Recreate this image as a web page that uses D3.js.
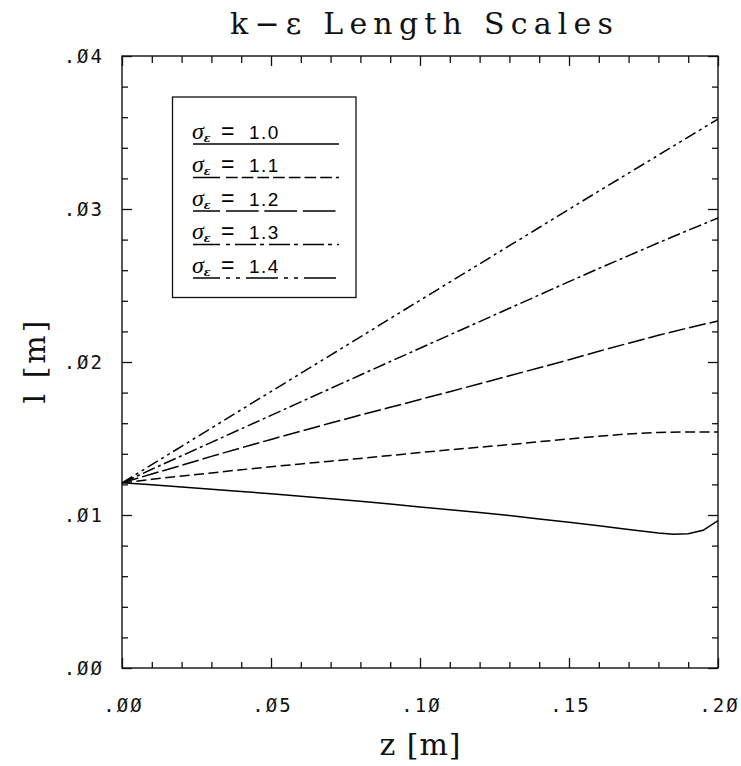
<!DOCTYPE html>
<html>
<head>
<meta charset="utf-8">
<script src="https://cdn.jsdelivr.net/npm/d3@7"></script>
<style>
html,body{margin:0;padding:0;background:#fff;}
svg{display:block;}
</style>
</head>
<body>
<svg id="chart" width="741" height="766"></svg>
<script>
// ---- data ----
const titleText = "k\u2212\u03b5 Length Scales";
const xLabel = "z [m]";
const yLabel = "l [m]";
const sigmaLabels = ["1.0", "1.1", "1.2", "1.3", "1.4"];
const xMajorTicks = [0, 0.05, 0.10, 0.15, 0.20];
const yMajorTicks = [0, 0.01, 0.02, 0.03, 0.04];

const zGrid = [0,0.01,0.02,0.03,0.04,0.05,0.06,0.07,0.08,0.09,0.10,0.11,0.12,0.13,0.14,0.15,0.16,0.17,0.18,0.19,0.20];
const zSigma10 = [0,0.01,0.02,0.03,0.04,0.05,0.06,0.07,0.08,0.09,0.10,0.11,0.12,0.13,0.14,0.15,0.16,0.17,0.18,0.185,0.19,0.195,0.20];
const lSigma10 = [0.01210,0.01198,0.01183,0.01169,0.01154,0.01139,0.01123,0.01107,0.01090,0.01072,0.01053,0.01035,0.01016,0.00996,0.00974,0.00952,0.00929,0.00905,0.00882,0.00875,0.00878,0.00900,0.00963];
const lSigma11 = [0.01210,0.01233,0.01255,0.01275,0.01296,0.01315,0.01334,0.01352,0.01370,0.01389,0.01408,0.01426,0.01443,0.01460,0.01479,0.01497,0.01515,0.01530,0.01540,0.01543,0.01542];
const lSigma12 = [0.01210,0.01268,0.01325,0.01383,0.01439,0.01494,0.01548,0.01601,0.01653,0.01704,0.01755,0.01806,0.01858,0.01910,0.01962,0.02015,0.02070,0.02123,0.02175,0.02223,0.02268];
const lSigma13 = [0.01210,0.01299,0.01387,0.01475,0.01563,0.01651,0.01739,0.01827,0.01915,0.02003,0.02090,0.02177,0.02264,0.02351,0.02438,0.02525,0.02611,0.02695,0.02779,0.02861,0.02941];
const lSigma14 = [0.01210,0.01329,0.01449,0.01568,0.01688,0.01807,0.01926,0.02045,0.02164,0.02284,0.02403,0.02522,0.02641,0.02760,0.02879,0.02998,0.03117,0.03234,0.03352,0.03470,0.03588];

// ---- styles ----
const plotDash = [null, "10,4.5", "17,4", "13,3.5,3,3.5", "12,4,3,4,3,4"];
const legendDash = [null, "11.7,4", "32.7,5.7", "4,5,21,4", "4,6,4,6,32,6"];

const series = [
  {z: zSigma10, l: lSigma10},
  {z: zGrid, l: lSigma11},
  {z: zGrid, l: lSigma12},
  {z: zGrid, l: lSigma13},
  {z: zGrid, l: lSigma14}
];

const svg = d3.select("#chart");
const L = 122, R = 718, T = 56, B = 668;
const x = d3.scaleLinear().domain([0, 0.2]).range([L, R]);
const y = d3.scaleLinear().domain([0, 0.04]).range([B, T]);

const fmt = v => d3.format(".2f")(v).replace(/^0/, "").replace(/0/g, "\u00d8");
const isMajorX = v => Math.abs(v / 0.05 - Math.round(v / 0.05)) < 1e-6;
const isMajorY = v => Math.abs(v / 0.01 - Math.round(v / 0.01)) < 1e-6;

const xMinor = d3.range(0, 21).map(i => i * 0.01).filter(v => !isMajorX(v));
const yMinor = d3.range(0, 21).map(i => i * 0.002).filter(v => !isMajorY(v));

function styleAxis(g) {
  g.select(".domain").remove();
  g.selectAll(".tick line").attr("stroke", "#111").attr("stroke-width", 1.3);
}

// bottom axis (ticks inward) + labels
svg.append("g").attr("transform", `translate(0,${B})`)
  .call(d3.axisBottom(x).tickValues(xMinor).tickSize(-6).tickFormat(""))
  .call(styleAxis);
const xb = svg.append("g").attr("transform", `translate(0,${B})`)
  .call(d3.axisBottom(x).tickValues(xMajorTicks).tickSize(-10).tickPadding(31).tickFormat(fmt))
  .call(styleAxis);
// top axis
svg.append("g").attr("transform", `translate(0,${T})`)
  .call(d3.axisTop(x).tickValues(xMinor).tickSize(-7).tickFormat(""))
  .call(styleAxis);
svg.append("g").attr("transform", `translate(0,${T})`)
  .call(d3.axisTop(x).tickValues(xMajorTicks).tickSize(-10).tickFormat(""))
  .call(styleAxis);
// left axis
svg.append("g").attr("transform", `translate(${L},0)`)
  .call(d3.axisLeft(y).tickValues(yMinor).tickSize(-6).tickFormat(""))
  .call(styleAxis);
const yl = svg.append("g").attr("transform", `translate(${L},0)`)
  .call(d3.axisLeft(y).tickValues(yMajorTicks).tickSize(-10).tickPadding(18).tickFormat(fmt))
  .call(styleAxis);
// right axis
svg.append("g").attr("transform", `translate(${R},0)`)
  .call(d3.axisRight(y).tickValues(yMinor).tickSize(-6).tickFormat(""))
  .call(styleAxis);
svg.append("g").attr("transform", `translate(${R},0)`)
  .call(d3.axisRight(y).tickValues(yMajorTicks).tickSize(-10).tickFormat(""))
  .call(styleAxis);

[xb, yl].forEach(g => g.selectAll(".tick text")
  .attr("fill", "#111")
  .style("font-family", "'DejaVu Sans Mono', monospace")
  .style("font-size", "19px")
  .style("letter-spacing", "2px"));
xb.selectAll(".tick text").attr("dx", "1px");

// frame
svg.append("rect").attr("x", L).attr("y", T).attr("width", R - L).attr("height", B - T)
  .attr("fill", "none").attr("stroke", "#111").attr("stroke-width", 1.4);

// curves
const line = d3.line().x(d => x(d[0])).y(d => y(d[1]));
series.forEach((s, i) => {
  const pts = s.z.map((z, j) => [z, s.l[j]]);
  svg.append("path").datum(pts).attr("d", line)
    .attr("fill", "none").attr("stroke", "#000").attr("stroke-width", 1.5)
    .attr("stroke-dasharray", plotDash[i]);
});

// legend
const lg = svg.append("g");
lg.append("rect").attr("x", 172.5).attr("y", 97).attr("width", 183.5).attr("height", 200.5)
  .attr("fill", "#fff").attr("stroke", "#111").attr("stroke-width", 1.3);
const legendY = d3.scalePoint().domain(sigmaLabels).range([144, 278]);
sigmaLabels.forEach((lab, i) => {
  const ly = legendY(lab);
  const t = lg.append("text").attr("x", 192).attr("y", ly - 5.5).attr("fill", "#000");
  t.append("tspan").text("\u03c3").style("font-family", "'Liberation Serif', serif")
    .style("font-style", "italic").style("font-size", "24px");
  t.append("tspan").text("\u03b5").attr("dy", 3).style("font-family", "'DejaVu Serif', serif")
    .style("font-style", "italic").style("font-weight", "bold").style("font-size", "11px");
  t.append("tspan").text("=").attr("x", 221).attr("dy", -3).style("font-family", "'Liberation Sans', sans-serif")
    .style("font-size", "23px");
  t.append("tspan").text(lab).attr("x", 249).style("font-family", "'Liberation Sans', sans-serif")
    .style("font-size", "19px").style("letter-spacing", "1.5px");
  if (i === 0) {
    lg.append("line").attr("x1", 193).attr("x2", 339).attr("y1", ly).attr("y2", ly)
      .attr("stroke", "#000").attr("stroke-width", 1.5);
  } else {
    lg.append("line").attr("x1", 193).attr("x2", 220).attr("y1", ly).attr("y2", ly)
      .attr("stroke", "#000").attr("stroke-width", 1.5);
    lg.append("line").attr("x1", 226).attr("x2", 339).attr("y1", ly).attr("y2", ly)
      .attr("stroke", "#000").attr("stroke-width", 1.5).attr("stroke-dasharray", legendDash[i]);
  }
});

// title and axis labels
svg.append("text").attr("x", 230).attr("y", 34).text(titleText)
  .attr("textLength", 383).attr("lengthAdjust", "spacing")
  .style("font-family", "'DejaVu Serif', serif").style("font-size", "30px").attr("fill", "#111");
svg.append("text").attr("x", 420).attr("y", 755).attr("text-anchor", "middle").text(xLabel)
  .attr("textLength", 81).attr("lengthAdjust", "spacing")
  .style("font-family", "'DejaVu Serif', serif").style("font-size", "30px").attr("fill", "#111");
svg.append("text").attr("transform", "translate(45,362) rotate(-90)").attr("text-anchor", "middle").text(yLabel)
  .attr("textLength", 83).attr("lengthAdjust", "spacing")
  .style("font-family", "'DejaVu Serif', serif").style("font-size", "30px").attr("fill", "#111");
</script>
</body>
</html>
